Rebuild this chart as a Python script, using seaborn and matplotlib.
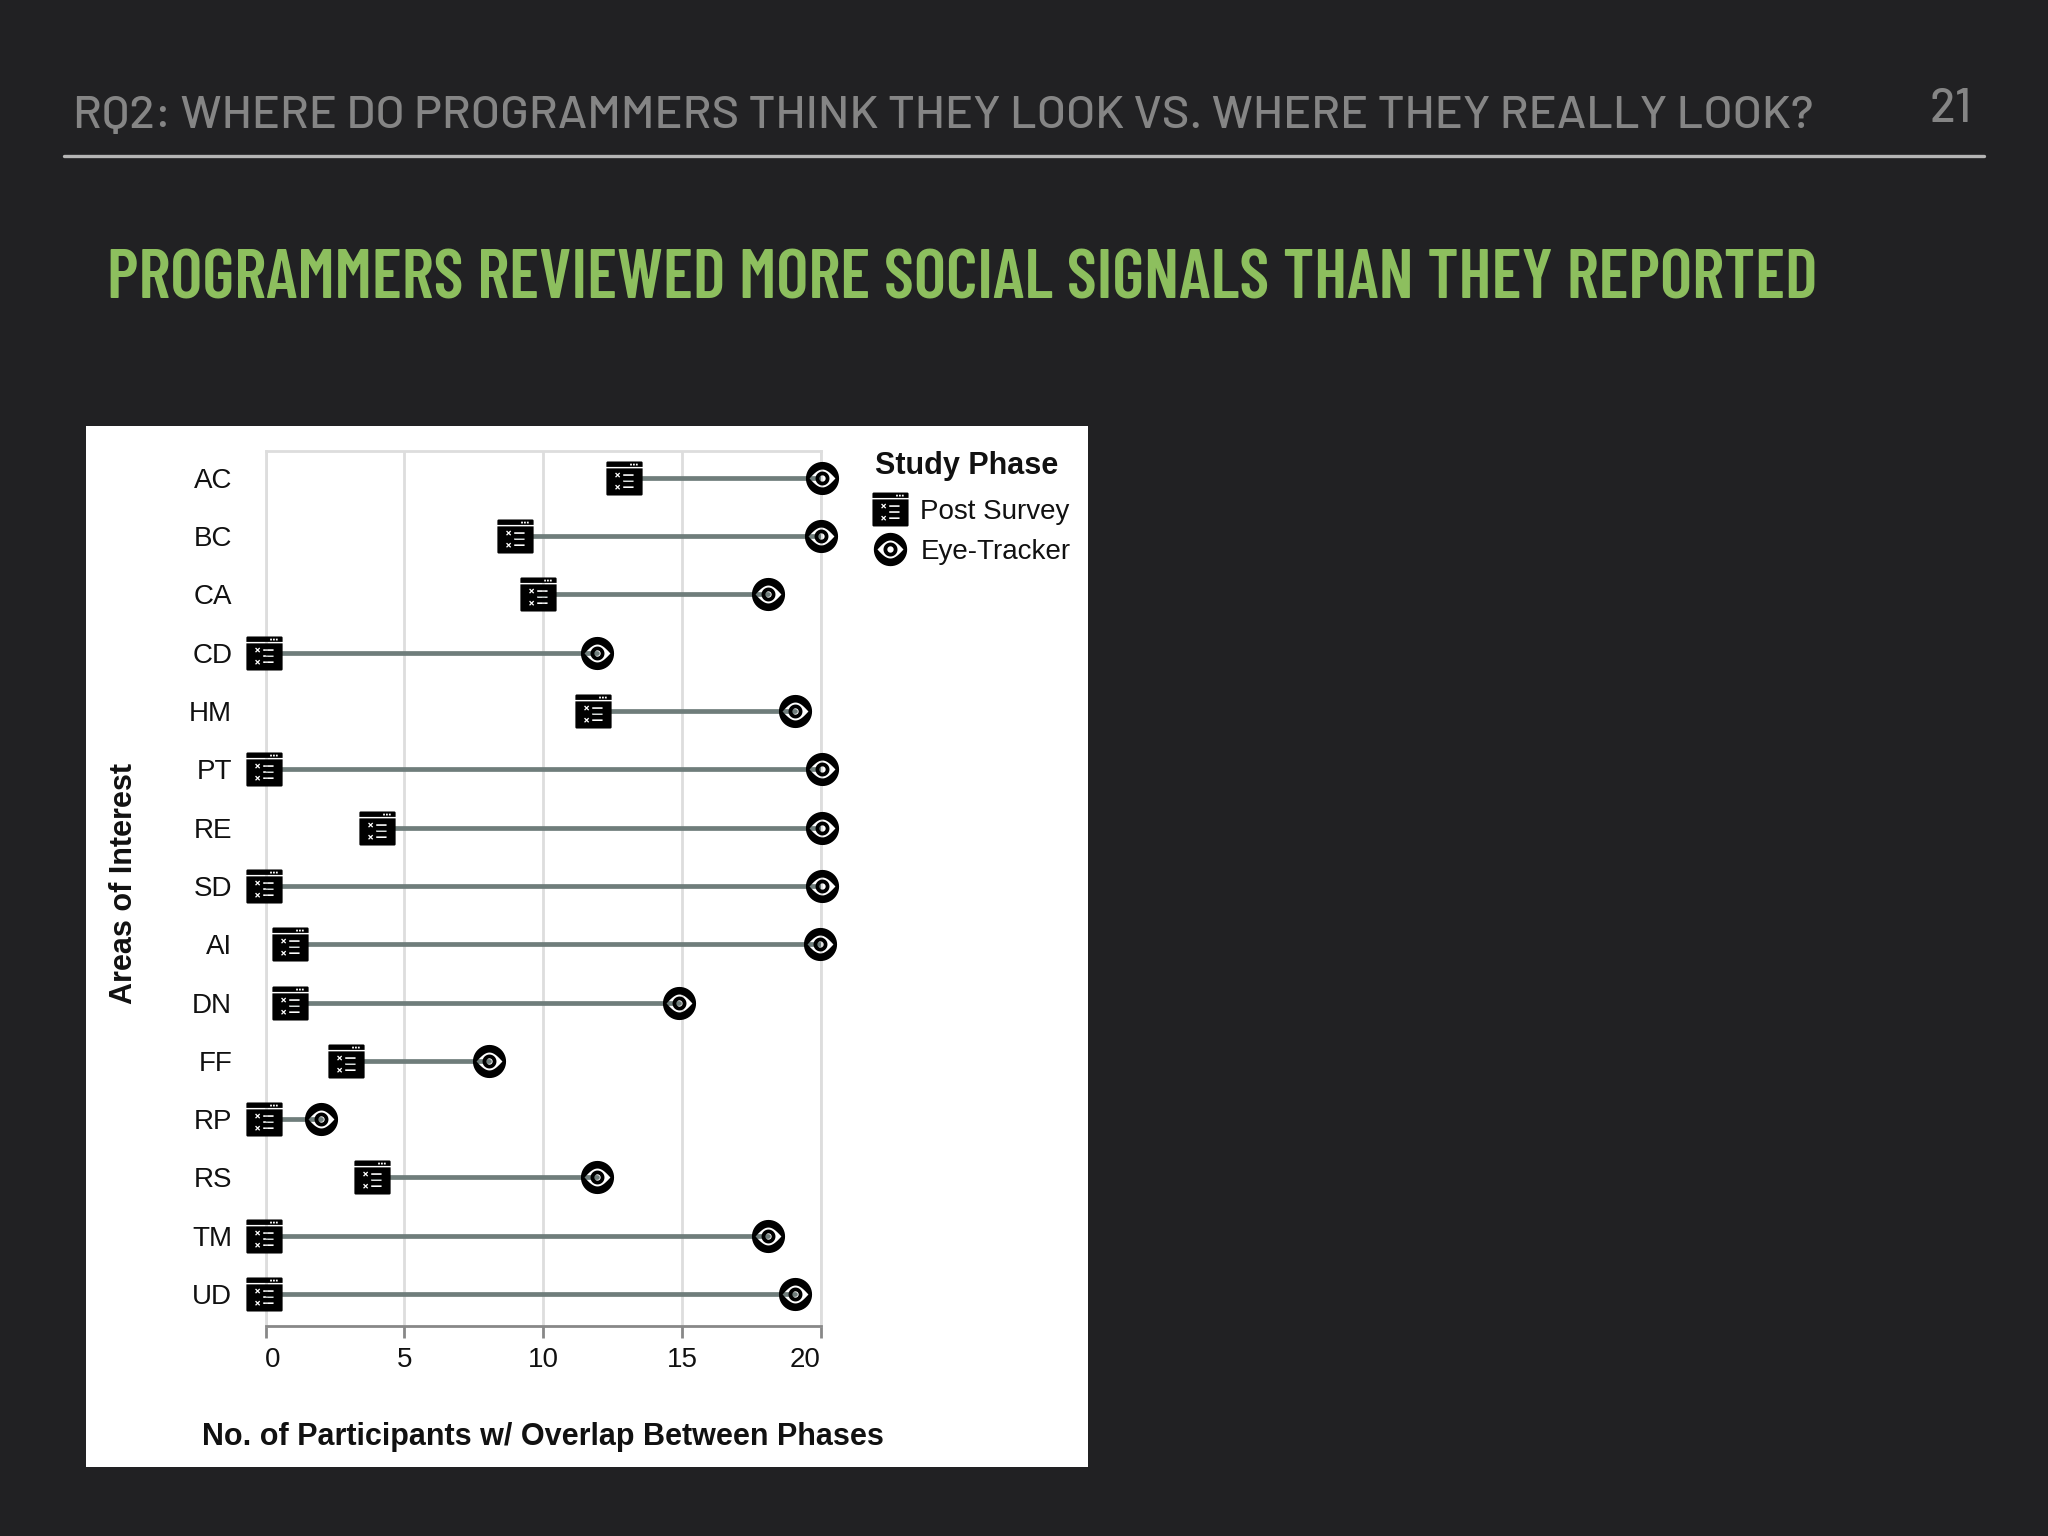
import matplotlib
matplotlib.use("Agg")
import matplotlib.pyplot as plt
import matplotlib.transforms as mtrans
import seaborn as sns
import pandas as pd
import numpy as np
from matplotlib.lines import Line2D
from matplotlib.patches import Rectangle
from matplotlib.path import Path

W, H = 2048, 1536

# nilai
aoi = ["AC", "BC", "CA", "CD", "HM", "PT", "RE", "SD", "AI", "DN", "FF", "RP", "RS", "TM", "UD"]
post_survey = [12.9, 9.0, 9.8, -0.05, 11.8, -0.05, 4.0, -0.05, 0.9, 0.9, 2.9, -0.05, 3.85, -0.05, -0.05]
eye_tracker = [20.05, 20, 18.1, 11.95, 19.05, 20.05, 20.05, 20.05, 19.95, 14.9, 8.05, 2, 11.95, 18.1, 19.05]
x_ticks = [0, 5, 10, 15, 20]

BG = "#212123"
GRID = "#dddddd"
AXIS = "#888888"
RULE_COLOR = "#6f7d7b"
HEAD_FONT = ["Barlow", "Roboto", "Liberation Sans"]
TITLE_FONT = ["Barlow Condensed", "Roboto", "Liberation Sans"]


def poly(points, hole=False):
    pts = np.asarray(points, dtype=float)
    # arah putar dibalik supaya jadi lubang
    if hole:
        pts = pts[::-1]
    pts = np.vstack([pts, pts[0]])
    codes = [Path.MOVETO] + [Path.LINETO] * (len(pts) - 2) + [Path.CLOSEPOLY]
    return Path(pts, codes)


def ring(r, cx=0.0, cy=0.0, n=48):
    t = np.linspace(0, 2 * np.pi, n, endpoint=False)
    return np.column_stack([cx + r * np.cos(t), cy + r * np.sin(t)])


def box(x0, y0, x1, y1):
    return [(x0, y0), (x1, y0), (x1, y1), (x0, y1)]


def cross(cx, cy, r=0.14, a=0.05):
    return [(cx - r + a, cy - r), (cx, cy - a), (cx + r - a, cy - r), (cx + r, cy - r + a),
            (cx + a, cy), (cx + r, cy + r - a), (cx + r - a, cy + r), (cx, cy + a),
            (cx - r + a, cy + r), (cx - r, cy + r - a), (cx - a, cy), (cx - r, cy - r + a)]


def buat_marker_mata():
    xs = np.linspace(-0.78, 0.78, 40)
    atas = 0.54 * np.cos(np.pi * xs / (2 * 0.78))
    lensa = np.vstack([np.column_stack([xs, -atas]), np.column_stack([xs[::-1], atas[::-1]])[1:-1]])
    return Path.make_compound_path(
        poly(ring(1.0)),
        poly(lensa, hole=True),
        poly(ring(0.42)),
        poly(ring(0.19), hole=True),
    )


def buat_marker_survei():
    w, h, r = 1.0, 0.94, 0.07
    t = np.linspace(0, np.pi / 2, 6)
    kotak = []
    for (cx, cy, a) in [(w - r, -h + r, -np.pi / 2), (w - r, h - r, 0), (-w + r, h - r, np.pi / 2), (-w + r, -h + r, np.pi)]:
        kotak += list(zip(cx + r * np.cos(t + a), cy + r * np.sin(t + a)))
    bagian = [poly(kotak), poly(box(-w, 0.56, w, 0.64), hole=True)]
    for dx in [0.36, 0.52, 0.68]:
        bagian.append(poly(box(dx - 0.05, 0.72, dx + 0.05, 0.82), hole=True))
    for yy in [0.19, -0.14, -0.48]:
        bagian.append(poly(box(-0.07, yy - 0.045, 0.5, yy + 0.045), hole=True))
    bagian.append(poly(cross(-0.38, 0.19), hole=True))
    bagian.append(poly([(-0.52, -0.14), (-0.46, -0.2), (-0.39, -0.13), (-0.28, -0.26), (-0.22, -0.2), (-0.39, -0.01)][::-1], hole=True))
    bagian.append(poly(cross(-0.38, -0.48), hole=True))
    return Path.make_compound_path(*bagian)


def pas_lebar(teks, target_px):
    # ukuran font disesuaikan supaya lebarnya sama dengan aslinya
    lebar = teks.get_window_extent(fig.canvas.get_renderer()).width
    teks.set_fontsize(teks.get_fontsize() * target_px / lebar)


df = pd.DataFrame({"aoi": aoi, "Post Survey": post_survey, "Eye-Tracker": eye_tracker})
long_df = df.melt(id_vars="aoi", var_name="phase", value_name="count")

sns.set_theme(style="white")
plt.rcParams["font.family"] = ["Liberation Sans", "DejaVu Sans"]

fig = plt.figure(figsize=(W / 100, H / 100), dpi=100, facecolor=BG)

# panel putih di belakang grafik
fig.add_artist(Rectangle((86 / W, 1 - 1467 / H), (1088 - 86) / W, (1467 - 426) / H,
                         transform=fig.transFigure, facecolor="white", edgecolor="none", zorder=0))

ax = fig.add_axes([265.5 / W, 1 - 1325.5 / H, (821 - 265.5) / W, (1325.5 - 450.5) / H], facecolor="none", zorder=2)

sns.lineplot(data=long_df, x="count", y="aoi", units="aoi", estimator=None, sort=False, orient="y",
             color=RULE_COLOR, linewidth=3.4, ax=ax, legend=False, zorder=3)

mata = buat_marker_mata()
survei = buat_marker_survei()
sns.scatterplot(data=df, x="Post Survey", y="aoi", marker=survei, s=680, color="black",
                linewidth=0, ax=ax, legend=False, zorder=4, clip_on=False)
sns.scatterplot(data=df, x="Eye-Tracker", y="aoi", marker=mata, s=570, color="black",
                linewidth=0, ax=ax, legend=False, zorder=4, clip_on=False)

ax.set_xlim(0, 20)
ax.set_ylim(14.54, -0.47)
ax.set_xticks(x_ticks)
ax.grid(True, axis="x", color=GRID, linewidth=2)
ax.grid(False, axis="y")
ax.set_axisbelow(True)

for nama in ["left", "right", "top"]:
    ax.spines[nama].set_color(GRID)
    ax.spines[nama].set_linewidth(2)
ax.spines["bottom"].set_color(AXIS)
ax.spines["bottom"].set_linewidth(2)

ax.tick_params(axis="x", length=8.6, width=2, color=AXIS, pad=7, labelsize=20, labelcolor="#111111", bottom=True)
ax.tick_params(axis="y", length=0, pad=24, labelsize=20, labelcolor="#111111")

# label 0 dan 20 digeser ke dalam seperti di aslinya
for lab, geser in zip(ax.get_xticklabels(), [7, 0, 0, 0, -16]):
    lab.set_transform(lab.get_transform() + mtrans.Affine2D().translate(geser, 0))

ax.set_xlabel("No. of Participants w/ Overlap Between Phases", fontsize=22, fontweight="bold", color="#111111", va="center")
ax.xaxis.set_label_coords(543 / W, 1 - 1437 / H, transform=fig.transFigure)
ax.set_ylabel("Areas of Interest", fontsize=22, fontweight="bold", color="#111111", va="center")
ax.yaxis.set_label_coords(124 / W, 1 - 883 / H, transform=fig.transFigure)

handles = [
    Line2D([], [], marker=survei, linestyle="None", markersize=26, color="black", markeredgewidth=0, label="Post Survey"),
    Line2D([], [], marker=mata, linestyle="None", markersize=24, color="black", markeredgewidth=0, label="Eye-Tracker"),
]
leg = ax.legend(handles=handles, title="Study Phase", loc="upper left", bbox_to_anchor=(875 / W, 1 - 451 / H),
                bbox_transform=fig.transFigure, frameon=False, fontsize=20, alignment="left",
                handlelength=1.1, handletextpad=0.53, labelspacing=0.5, borderpad=0, borderaxespad=0)
leg._legend_box.sep = 13
leg.get_title().set_fontsize(22)
leg.get_title().set_fontweight("bold")
leg.get_title().set_color("#111111")
for t in leg.get_texts():
    t.set_color("#111111")

# judul slide
t_head = fig.text(73 / W, 1 - 116 / H, "RQ2: WHERE DO PROGRAMMERS THINK THEY LOOK VS. WHERE THEY REALLY LOOK?",
                  family=HEAD_FONT, fontsize=30, fontweight="medium", color="#858585", va="center", ha="left")
pas_lebar(t_head, 1738)
fig.text(1929 / W, 1 - 109 / H, "21", family=HEAD_FONT, fontsize=34, fontweight="medium",
         color="#858585", va="center", ha="left")
fig.add_artist(Line2D([64 / W, 1984 / W], [1 - 156 / H, 1 - 156 / H], transform=fig.transFigure,
                      color="#b5b5b5", linewidth=2.4))
t_judul = fig.text(107 / W, 1 - 281 / H, "PROGRAMMERS REVIEWED MORE SOCIAL SIGNALS THAN THEY REPORTED",
                   family=TITLE_FONT, fontsize=54, fontweight="semibold", color="#8dbf5e", va="center", ha="left")
pas_lebar(t_judul, 1710)

fig.savefig("out.png", dpi=100, facecolor=BG)
plt.close(fig)
